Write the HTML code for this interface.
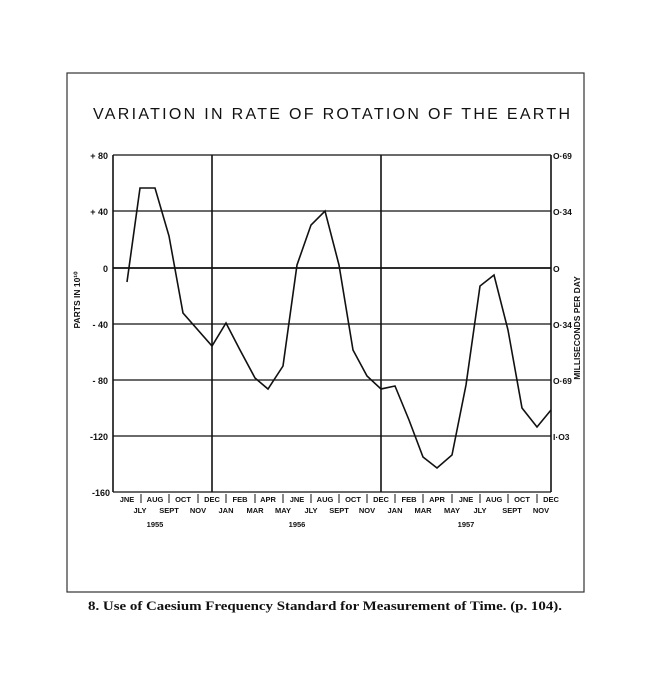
<!DOCTYPE html>
<html><head><style>
body{margin:0;background:#fff;}
svg text{font-family:"Liberation Sans",sans-serif;fill:#111;font-weight:bold;}
</style></head><body>
<svg width="650" height="677" xmlns="http://www.w3.org/2000/svg">
<rect x="67" y="73" width="517" height="519" fill="none" stroke="#333" stroke-width="1.2"/>
<text x="93" y="119" font-size="16" textLength="477" lengthAdjust="spacing" style="font-weight:normal">VARIATION  IN  RATE  OF  ROTATION  OF  THE  EARTH</text>
<g stroke="#111" stroke-width="1.3" fill="none">
<line x1="113" y1="155" x2="551" y2="155"/>
<line x1="113" y1="211" x2="551" y2="211"/>
<line x1="113" y1="268" x2="551" y2="268" stroke-width="1.8"/>
<line x1="113" y1="324" x2="551" y2="324"/>
<line x1="113" y1="380" x2="551" y2="380"/>
<line x1="113" y1="436" x2="551" y2="436"/>
<line x1="113" y1="492" x2="551" y2="492"/>
<line x1="113" y1="155" x2="113" y2="492" stroke-width="1.6"/>
<line x1="551" y1="155" x2="551" y2="492" stroke-width="1.6"/>
<line x1="212" y1="155" x2="212" y2="492" stroke-width="1.6"/>
<line x1="381" y1="155" x2="381" y2="492" stroke-width="1.6"/>
<polyline stroke-width="1.6" points="127,282 140,188 155,188 169,236 183,313 212,346 226,323 240,350 255,378 268,389 283,366 297,265 311,225 325,211 339,265 353,350 367,376 381,389 395,386 409,420 423,457 437,468 452,455 466,385 480,286 494,275 508,330 522,408 537,427 551,410"/>
</g>
<g font-size="9" text-anchor="end">
<text x="108" y="159">+ 80</text><text x="108" y="215">+ 40</text><text x="108" y="272">0</text>
<text x="108" y="328">- 40</text><text x="108" y="384">- 80</text><text x="108" y="440">-120</text><text x="110" y="496">-160</text>
</g>
<g font-size="8.5">
<text x="553" y="159">O·69</text><text x="553" y="215">O·34</text><text x="553" y="272">O</text>
<text x="553" y="328">O·34</text><text x="553" y="384">O·69</text><text x="553" y="440">I·O3</text>
</g>
<text transform="translate(80,300) rotate(-90)" font-size="8.5" text-anchor="middle">PARTS IN 10¹⁰</text>
<text transform="translate(580,328) rotate(-90)" font-size="8.5" text-anchor="middle">MILLISECONDS  PER  DAY</text>
<g font-size="7.5" text-anchor="middle">
<text x="127" y="502">JNE</text><text x="155" y="502">AUG</text><text x="183" y="502">OCT</text><text x="212" y="502">DEC</text>
<text x="240" y="502">FEB</text><text x="268" y="502">APR</text><text x="297" y="502">JNE</text><text x="325" y="502">AUG</text>
<text x="353" y="502">OCT</text><text x="381" y="502">DEC</text><text x="409" y="502">FEB</text><text x="437" y="502">APR</text>
<text x="466" y="502">JNE</text><text x="494" y="502">AUG</text><text x="522" y="502">OCT</text><text x="551" y="502">DEC</text>
<text x="140" y="513">JLY</text><text x="169" y="513">SEPT</text><text x="198" y="513">NOV</text><text x="226" y="513">JAN</text>
<text x="255" y="513">MAR</text><text x="283" y="513">MAY</text><text x="311" y="513">JLY</text><text x="339" y="513">SEPT</text>
<text x="367" y="513">NOV</text><text x="395" y="513">JAN</text><text x="423" y="513">MAR</text><text x="452" y="513">MAY</text>
<text x="480" y="513">JLY</text><text x="512" y="513">SEPT</text><text x="541" y="513">NOV</text>
<text x="155" y="527">1955</text><text x="297" y="527">1956</text><text x="466" y="527">1957</text>
</g>
<g stroke="#111" stroke-width="1">
<line x1="141" y1="494" x2="141" y2="503"/><line x1="169" y1="494" x2="169" y2="503"/><line x1="198" y1="494" x2="198" y2="503"/>
<line x1="226" y1="494" x2="226" y2="503"/><line x1="255" y1="494" x2="255" y2="503"/><line x1="283" y1="494" x2="283" y2="503"/>
<line x1="311" y1="494" x2="311" y2="503"/><line x1="339" y1="494" x2="339" y2="503"/><line x1="367" y1="494" x2="367" y2="503"/>
<line x1="395" y1="494" x2="395" y2="503"/><line x1="423" y1="494" x2="423" y2="503"/><line x1="452" y1="494" x2="452" y2="503"/>
<line x1="480" y1="494" x2="480" y2="503"/><line x1="508" y1="494" x2="508" y2="503"/><line x1="537" y1="494" x2="537" y2="503"/>
</g>
<text x="88" y="610" font-size="13" textLength="474" lengthAdjust="spacingAndGlyphs" style="font-family:'Liberation Serif',serif;font-weight:bold">8. Use of Caesium Frequency Standard for Measurement of Time. (p. 104).</text>
</svg>
</body></html>
